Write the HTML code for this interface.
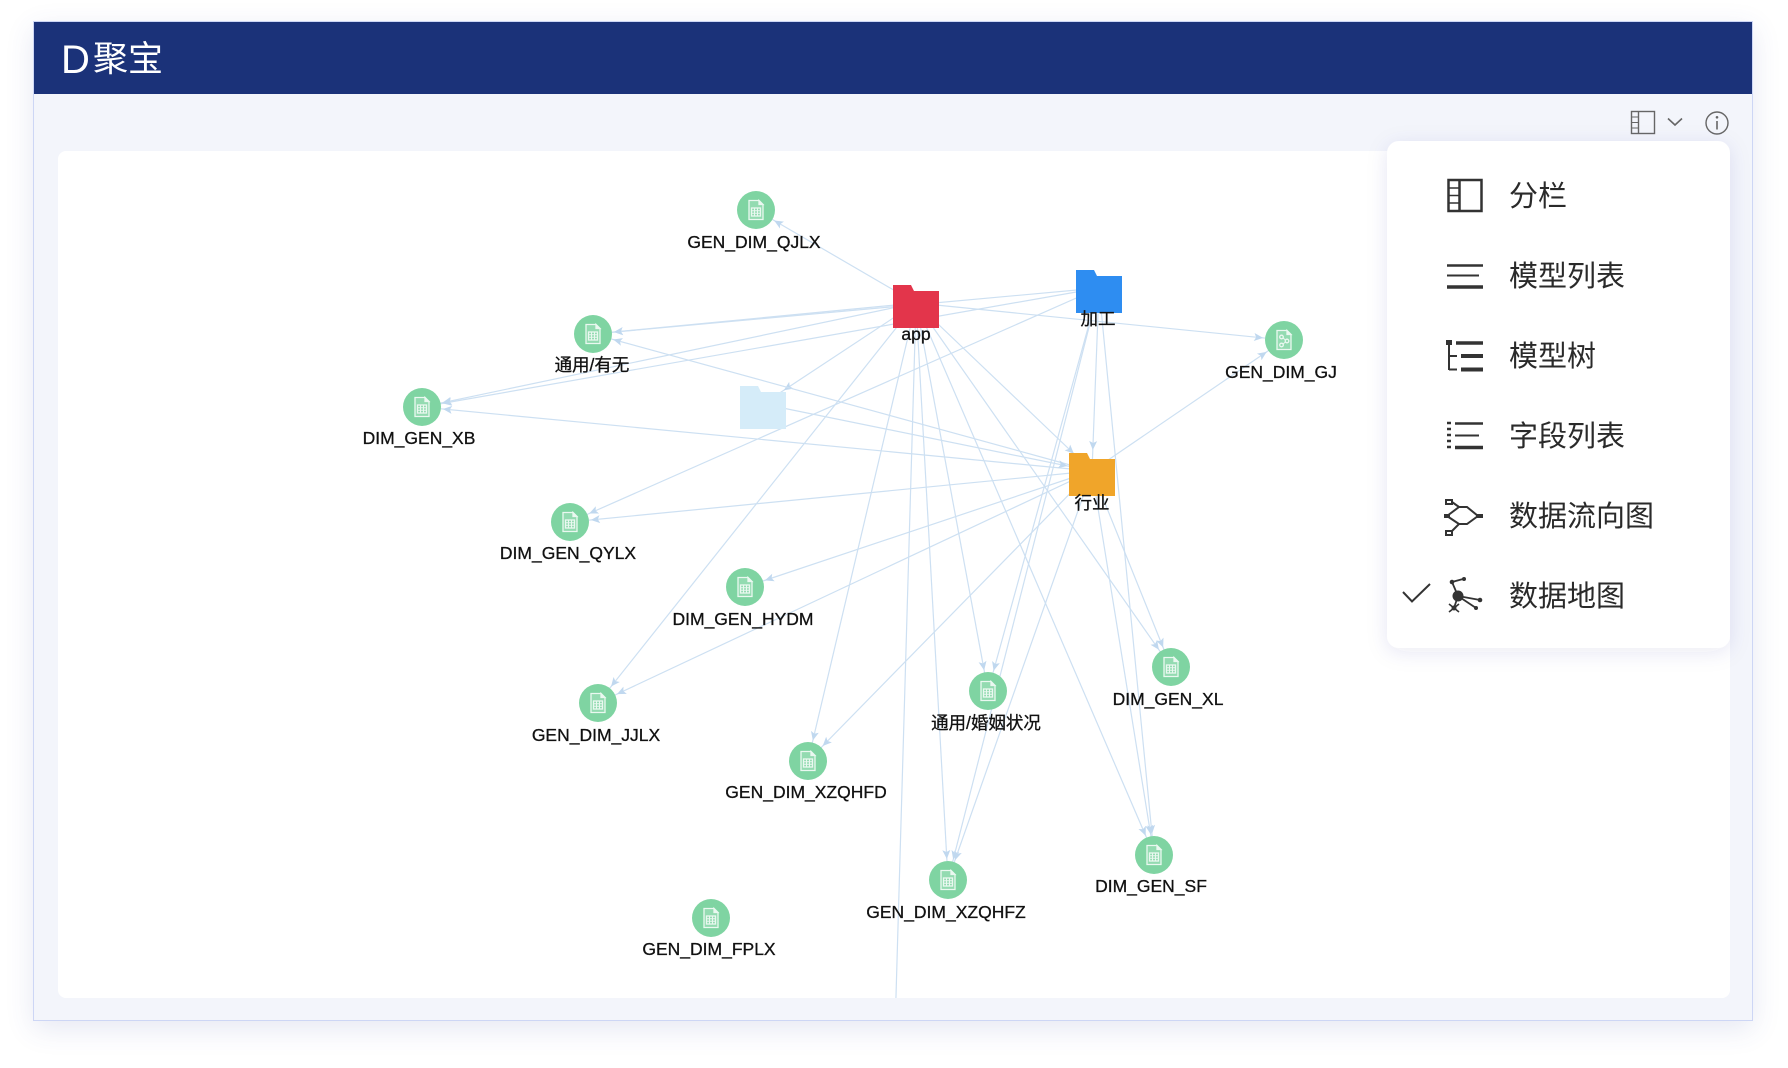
<!DOCTYPE html>
<html><head><meta charset="utf-8">
<style>
html,body{margin:0;padding:0;background:#fff;}
body{width:1788px;height:1068px;position:relative;overflow:hidden;}
#frame{position:absolute;left:33px;top:21px;width:1718px;height:998px;border:1.5px solid #cdd6f5;background:#f3f5fb;box-shadow:0 8px 26px rgba(60,80,160,0.13);}
svg{position:absolute;left:0;top:0;}
</style></head>
<body>
<div id="frame"></div>
<svg width="1788" height="1068" viewBox="0 0 1788 1068" xmlns="http://www.w3.org/2000/svg">
<defs>
  <clipPath id="cardclip"><rect x="58" y="151" width="1672" height="847" rx="8"/></clipPath>
  <marker id="mc" markerUnits="userSpaceOnUse" markerWidth="40" markerHeight="20" refX="30" refY="4" orient="auto" overflow="visible">
    <path d="M0,0 L9,4 L0,8 L2,4 Z" fill="#c0d8ef"/>
  </marker>
  <marker id="mf" markerUnits="userSpaceOnUse" markerWidth="40" markerHeight="20" refX="34" refY="4" orient="auto" overflow="visible">
    <path d="M0,0 L9,4 L0,8 L2,4 Z" fill="#c0d8ef"/>
  </marker>
  <filter id="dshadow" x="-20%" y="-20%" width="140%" height="140%">
    <feDropShadow dx="0" dy="4" stdDeviation="10" flood-color="#2a3f8f" flood-opacity="0.10"/>
  </filter>
  <g id="doc" fill="none" stroke="#eaf8f0" stroke-width="1.3">
    <path d="M-7,-9.5 H3 L7,-5.5 V9.5 H-7 Z" fill="rgba(255,255,255,0.16)"/>
    <path d="M3,-9.5 V-5.5 H7 Z" fill="#eaf8f0"/>
    <rect x="-4.5" y="-2" width="9" height="8"/>
    <path d="M-4.5,0.7 H4.5 M-4.5,3.3 H4.5 M-1.5,-2 V6 M1.5,-2 V6" stroke-width="1"/>
  </g>
</defs>

<!-- header -->
<rect x="34" y="22" width="1718" height="72" fill="#1b3279"/>
<text x="61" y="73" font-family="Liberation Sans, sans-serif" font-size="40" fill="#fff">D</text>
<text x="93" y="71" font-family="Liberation Sans, 'Noto Sans CJK SC', sans-serif" font-size="35" fill="#fff">聚宝</text>

<!-- card -->
<rect x="58" y="151" width="1672" height="847" rx="8" fill="#ffffff"/>

<!-- edges -->
<g clip-path="url(#cardclip)" stroke="#cde0f2" stroke-width="1.2" fill="none">
  <!-- app -->
  <line x1="916" y1="303" x2="756" y2="210" marker-end="url(#mc)"/>
  <line x1="916" y1="303" x2="593" y2="334" marker-end="url(#mc)"/>
  <line x1="916" y1="303" x2="422" y2="407" marker-end="url(#mc)"/>
  <line x1="916" y1="303" x2="763" y2="404" marker-end="url(#mf)"/>
  <line x1="916" y1="303" x2="598" y2="703" marker-end="url(#mc)"/>
  <line x1="916" y1="303" x2="808" y2="761" marker-end="url(#mc)"/>
  <line x1="916" y1="303" x2="893" y2="1100"/>
  <line x1="916" y1="303" x2="948" y2="880" marker-end="url(#mc)"/>
  <line x1="916" y1="303" x2="988" y2="691" marker-end="url(#mc)"/>
  <line x1="916" y1="303" x2="1154" y2="855" marker-end="url(#mc)"/>
  <line x1="916" y1="303" x2="1171" y2="667" marker-end="url(#mc)"/>
  <line x1="916" y1="303" x2="1092" y2="471" marker-end="url(#mf)"/>
  <line x1="916" y1="303" x2="1284" y2="340" marker-end="url(#mc)"/>
  <!-- 加工 -->
  <line x1="1099" y1="288" x2="593" y2="334" marker-end="url(#mc)"/>
  <line x1="1099" y1="288" x2="422" y2="407" marker-end="url(#mc)"/>
  <line x1="1099" y1="288" x2="570" y2="522" marker-end="url(#mc)"/>
  <line x1="1099" y1="288" x2="1092" y2="471" marker-end="url(#mc)"/>
  <line x1="1099" y1="288" x2="988" y2="691" marker-end="url(#mc)"/>
  <line x1="1099" y1="288" x2="948" y2="880" marker-end="url(#mc)"/>
  <line x1="1099" y1="288" x2="1154" y2="855" marker-end="url(#mc)"/>
  <!-- 行业 -->
  <line x1="1092" y1="471" x2="1284" y2="340" marker-end="url(#mc)"/>
  <line x1="1092" y1="471" x2="593" y2="334" marker-end="url(#mc)"/>
  <line x1="1092" y1="471" x2="422" y2="407" marker-end="url(#mc)"/>
  <line x1="1092" y1="471" x2="570" y2="522" marker-end="url(#mc)"/>
  <line x1="1092" y1="471" x2="745" y2="587" marker-end="url(#mc)"/>
  <line x1="1092" y1="471" x2="598" y2="703" marker-end="url(#mc)"/>
  <line x1="1092" y1="471" x2="808" y2="761" marker-end="url(#mc)"/>
  <line x1="1092" y1="471" x2="948" y2="880" marker-end="url(#mc)"/>
  <line x1="1092" y1="471" x2="1171" y2="667" marker-end="url(#mc)"/>
  <line x1="1092" y1="471" x2="1154" y2="855" marker-end="url(#mc)"/>
  <!-- light folder -->
  <line x1="763" y1="404" x2="1092" y2="471" marker-end="url(#mf)"/>
</g>

<!-- folders -->
<g>
  <path d="M740,386 h18 l3,6 h25 v37 h-46 z" fill="#d5ecf9"/>
  <path d="M893,285 h18 l3,6 h25 v37 h-46 z" fill="#e3354b"/>
  <path d="M1076,270 h18 l3,6 h25 v37 h-46 z" fill="#2e8df1"/>
  <path d="M1069,453 h18 l3,6 h25 v37 h-46 z" fill="#f0a52a"/>
</g>
<g font-family="Liberation Sans, 'Noto Sans CJK SC', sans-serif" font-size="17.5" fill="#111" stroke="#111" stroke-width="0.3" text-anchor="middle">
  <text x="916" y="340">app</text>
  <text x="1098" y="325">加工</text>
  <text x="1092" y="509">行业</text>
</g>

<!-- circle nodes -->
<g fill="#7fd4a2">
  <circle cx="756" cy="210" r="19"/>
  <circle cx="593" cy="334" r="19"/>
  <circle cx="422" cy="407" r="19"/>
  <circle cx="570" cy="522" r="19"/>
  <circle cx="745" cy="587" r="19"/>
  <circle cx="598" cy="703" r="19"/>
  <circle cx="808" cy="761" r="19"/>
  <circle cx="988" cy="691" r="19"/>
  <circle cx="1171" cy="667" r="19"/>
  <circle cx="1154" cy="855" r="19"/>
  <circle cx="948" cy="880" r="19"/>
  <circle cx="711" cy="918" r="19"/>
  <circle cx="1284" cy="340" r="19"/>
</g>
<use href="#doc" x="756" y="210"/>
<use href="#doc" x="593" y="334"/>
<use href="#doc" x="422" y="407"/>
<use href="#doc" x="570" y="522"/>
<use href="#doc" x="745" y="587"/>
<use href="#doc" x="598" y="703"/>
<use href="#doc" x="808" y="761"/>
<use href="#doc" x="988" y="691"/>
<use href="#doc" x="1171" y="667"/>
<use href="#doc" x="1154" y="855"/>
<use href="#doc" x="948" y="880"/>
<use href="#doc" x="711" y="918"/>
<g transform="translate(1284,340)" fill="none" stroke="#eaf8f0" stroke-width="1.3">
  <path d="M-7,-9.5 H3 L7,-5.5 V9.5 H-7 Z" fill="rgba(255,255,255,0.16)"/>
  <path d="M3,-9.5 V-5.5 H7 Z" fill="#eaf8f0"/>
  <circle cx="-2.5" cy="-3" r="1.8"/><circle cx="3" cy="1" r="1.8"/><circle cx="-2.5" cy="5" r="1.8"/>
  <path d="M-1,-2 L1.5,0 M1.5,2 L-1,4" stroke-width="1"/>
</g>

<g font-family="Liberation Sans, 'Noto Sans CJK SC', sans-serif" font-size="17.5" fill="#111" stroke="#111" stroke-width="0.3" text-anchor="middle">
  <text x="754" y="248">GEN_DIM_QJLX</text>
  <text x="592" y="371">通用/有无</text>
  <text x="419" y="444">DIM_GEN_XB</text>
  <text x="568" y="559">DIM_GEN_QYLX</text>
  <text x="743" y="625">DIM_GEN_HYDM</text>
  <text x="596" y="741">GEN_DIM_JJLX</text>
  <text x="806" y="798">GEN_DIM_XZQHFD</text>
  <text x="986" y="729">通用/婚姻状况</text>
  <text x="1168" y="705">DIM_GEN_XL</text>
  <text x="1151" y="892">DIM_GEN_SF</text>
  <text x="946" y="918">GEN_DIM_XZQHFZ</text>
  <text x="709" y="955">GEN_DIM_FPLX</text>
  <text x="1281" y="378">GEN_DIM_GJ</text>
</g>

<!-- toolbar icons -->
<g fill="none" stroke="#666" stroke-width="1.4">
  <rect x="1631.5" y="111.5" width="23" height="22"/>
  <line x1="1638.5" y1="111.5" x2="1638.5" y2="133.5"/>
  <path d="M1631.5,117 H1638.5 M1631.5,122.5 H1638.5 M1631.5,128 H1638.5" stroke-width="1"/>
  <polyline points="1668,118.5 1675,125 1682,118.5" stroke-width="1.6"/>
  <circle cx="1717" cy="123" r="11"/>
  <line x1="1717" y1="121" x2="1717" y2="129.5" stroke-width="1.6"/>
</g>
<circle cx="1717" cy="117.3" r="1.3" fill="#666"/>

<!-- dropdown -->
<rect x="1387" y="141" width="343" height="507" rx="12" fill="#fff" filter="url(#dshadow)"/>

<g fill="none" stroke="#333" stroke-linecap="butt">
  <!-- 分栏 -->
  <rect x="1448.5" y="180" width="33" height="31" stroke-width="2.5"/>
  <line x1="1459.5" y1="180" x2="1459.5" y2="211" stroke-width="2.5"/>
  <path d="M1448,188 H1459 M1448,195.5 H1459 M1448,203 H1459" stroke-width="1.5"/>
  <!-- 模型列表 -->
  <line x1="1447" y1="265.5" x2="1483" y2="265.5" stroke-width="2.5"/>
  <line x1="1447" y1="275.5" x2="1479" y2="275.5" stroke-width="2"/>
  <line x1="1447" y1="287" x2="1483" y2="287" stroke-width="3.5"/>
  <!-- 模型树 -->
  <line x1="1449" y1="342" x2="1449" y2="370" stroke-width="2"/>
  <path d="M1449,356 H1457 M1449,369.5 H1457" stroke-width="2"/>
  <line x1="1456" y1="343" x2="1483" y2="343" stroke-width="3.5"/>
  <line x1="1461" y1="356" x2="1483" y2="356" stroke-width="4"/>
  <line x1="1461" y1="369.5" x2="1483" y2="369.5" stroke-width="4"/>
  <!-- 字段列表 -->
  <path d="M1447,423 H1451 M1447,429 H1451 M1447,435 H1451 M1447,441 H1451 M1447,447 H1451" stroke-width="2.5"/>
  <line x1="1455" y1="423.5" x2="1483" y2="423.5" stroke-width="2.5"/>
  <line x1="1455" y1="435.5" x2="1479" y2="435.5" stroke-width="2"/>
  <line x1="1455" y1="447.5" x2="1483" y2="447.5" stroke-width="3.5"/>
  <!-- 数据流向图 -->
  <rect x="1446" y="500" width="6" height="4" stroke-width="2"/>
  <rect x="1446" y="531" width="6" height="4" stroke-width="2"/>
  <path d="M1452,502 L1459,507 H1467 L1478,516 L1467,524 H1459 L1452,531" stroke-width="2"/>
  <path d="M1447,516 L1459,507 M1447,516 L1459,524 M1447,516 H1445" stroke-width="2"/>
  <rect x="1444" y="514" width="6" height="4" fill="#333" stroke="none"/>
  <rect x="1476" y="514" width="7" height="4" fill="#333" stroke="none"/>
  <!-- 数据地图 -->
  <path d="M1458,596 L1452,582 M1452,582 L1463,579 M1458,596 L1480,600 M1458,596 L1454,608 M1458,596 L1476,608" stroke-width="1.8"/>
  <path d="M1449,612 L1459,604 M1449,604 L1459,612" stroke-width="1.6"/>
  <!-- checkmark -->
  <polyline points="1403,592 1412,601.5 1430,584" stroke-width="2"/>
</g>
<g fill="#333">
  <circle cx="1458" cy="596" r="5.5"/>
  <circle cx="1452" cy="582" r="2.3"/>
  <circle cx="1464" cy="579" r="2"/>
  <circle cx="1480" cy="600" r="2.3"/>
  <circle cx="1476" cy="608" r="2"/>
  <circle cx="1454" cy="608" r="2.5"/>
  <rect x="1446" y="340" width="6" height="5"/>
</g>

<g font-family="Liberation Sans, 'Noto Sans CJK SC', sans-serif" font-size="29" fill="#2a2a2a">
  <text x="1509" y="206">分栏</text>
  <text x="1509" y="286">模型列表</text>
  <text x="1509" y="366">模型树</text>
  <text x="1509" y="446">字段列表</text>
  <text x="1509" y="526">数据流向图</text>
  <text x="1509" y="606">数据地图</text>
</g>
</svg>
</body></html>
